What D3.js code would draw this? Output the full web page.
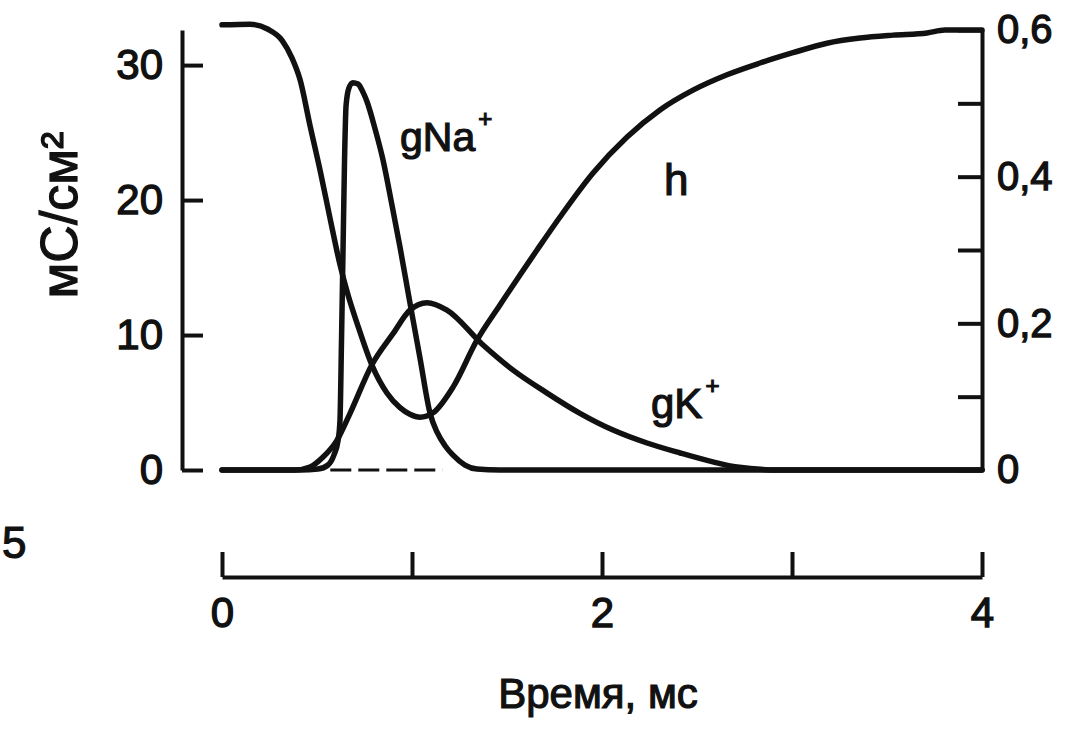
<!DOCTYPE html>
<html>
<script src="https://d3js.org/d3.v7.min.js"></script>

<head>
    <style>
        body {
            margin: 0;
            background-color: #ffffff;
            font-family: "Liberation Sans", Arial, Helvetica, sans-serif;
        }

        svg {
            display: block;
        }
    </style>
</head>

<body>
</body>
<script>
    const width = 1077,
        height = 735;
    const svg = d3.select("body").append("svg").attr("width", width).attr("height", height);
    const ink = "#111";

    // h (right axis, 0..0.6)
    const hTime = [0, 0.147, 0.242, 0.316, 0.368, 0.411, 0.463, 0.516, 0.568, 0.621, 0.663, 0.711, 0.789, 0.868,
        0.937, 0.989, 1.042, 1.111, 1.216, 1.342, 1.463, 1.658, 1.779, 1.953, 2.132, 2.305, 2.479, 2.658, 2.832,
        3.005, 3.184, 3.358, 3.532, 3.711, 3.805, 4.0];
    const hValue = [0.607, 0.608, 0.601, 0.586, 0.562, 0.532, 0.47, 0.409, 0.344, 0.28, 0.239, 0.2, 0.143, 0.105,
        0.085, 0.076, 0.072, 0.078, 0.113, 0.177, 0.225, 0.3, 0.345, 0.405, 0.454, 0.491, 0.518, 0.539, 0.555,
        0.569, 0.582, 0.589, 0.593, 0.596, 0.6, 0.6];

    // gNa+ in mS/cm2
    const gNaTime = [0, 0.411, 0.505, 0.558, 0.589, 0.611, 0.621, 0.629, 0.637, 0.645, 0.653, 0.668, 0.689, 0.716,
        0.742, 0.763, 0.805, 0.847, 0.895, 0.937, 0.989, 1.042, 1.095, 1.132, 1.174, 1.216, 1.279, 1.342, 1.463, 4.0];
    const gNaValue = [0, 0, 0.07, 0.37, 1.1, 2.2, 3.7, 9.6, 16.3, 23.0, 27.0, 28.3, 28.7, 28.6,
        28.0, 27.3, 25.3, 23.0, 19.6, 16.5, 12.4, 8.3, 4.2, 2.8, 1.8, 1.1, 0.37, 0.07, 0, 0];

    // gK+ in mS/cm2
    const gKTime = [0, 0.384, 0.463, 0.532, 0.605, 0.674, 0.789, 0.9, 0.989, 1.079, 1.184, 1.374, 1.532, 1.711,
        1.884, 2.058, 2.237, 2.411, 2.584, 2.711, 2.937, 4.0];
    const gKValue = [0, 0, 0.22, 0.96, 2.2, 4.2, 7.8, 10.1, 11.85, 12.4, 11.85, 9.26, 7.4, 5.7,
        4.2, 2.96, 2.0, 1.26, 0.6, 0.22, 0, 0];

    const zeroDashSpan = [0.57, 1.16];

    const leftTicks = [0, 10, 20, 30];
    const rightTicks = [0, 0.1, 0.2, 0.3, 0.4, 0.5, 0.6];
    const rightLabels = ["0", "", "0,2", "", "0,4", "", "0,6"];
    const timeTicks = [0, 1, 2, 3, 4];
    const timeLabels = ["0", "", "2", "", "4"];

    const x = d3.scaleLinear().domain([0, 4]).range([222, 982]);
    const yL = d3.scaleLinear().domain([0, 32.6]).range([470, 30]);
    const yR = d3.scaleLinear().domain([0, 0.6]).range([470, 30]);

    function styleAxis(g, size) {
        g.attr("font-family", null).attr("font-size", null);
        g.selectAll("path.domain").attr("stroke", ink).attr("stroke-width", 4);
        g.selectAll(".tick line").attr("stroke", ink).attr("stroke-width", 4);
        g.selectAll(".tick text")
            .attr("fill", ink)
            .attr("stroke", ink)
            .attr("stroke-width", 1.3)
            .attr("font-size", size + "px");
    }

    function drawAxes() {
        svg.append("g")
            .attr("transform", "translate(182,0)")
            .call(d3.axisLeft(yL).tickValues(leftTicks).tickSizeInner(-21).tickSizeOuter(0).tickPadding(19))
            .call(g => styleAxis(g, 42));

        svg.append("g")
            .attr("transform", "translate(982,0)")
            .call(d3.axisRight(yR).tickValues(rightTicks).tickSizeInner(-24).tickSizeOuter(0).tickPadding(15)
                .tickFormat((d, i) => rightLabels[i]))
            .call(g => styleAxis(g, 40));

        svg.append("g")
            .attr("transform", "translate(0,577)")
            .call(d3.axisBottom(x).tickValues(timeTicks).tickSizeInner(-25).tickSizeOuter(0).tickPadding(20)
                .tickFormat((d, i) => timeLabels[i]))
            .call(g => styleAxis(g, 42));
    }

    function drawCurve(times, values, yScale) {
        const pts = times.map((t, i) => [t, values[i]]);
        const line = d3.line()
            .x(d => x(d[0]))
            .y(d => yScale(d[1]))
            .curve(d3.curveMonotoneX);
        svg.append("path")
            .datum(pts)
            .attr("d", line)
            .attr("fill", "none")
            .attr("stroke", ink)
            .attr("stroke-width", 5.5)
            .attr("stroke-linejoin", "round")
            .attr("stroke-linecap", "round");
    }

    function label(txt, sup, px, py, size) {
        const t = svg.append("text")
            .attr("x", px)
            .attr("y", py)
            .attr("font-size", size + "px")
            .attr("fill", ink)
            .attr("stroke", ink)
            .attr("stroke-width", 1.2)
            .text(txt);
        if (sup) {
            t.append("tspan")
                .attr("dx", 3)
                .attr("dy", -24)
                .attr("font-size", "24px")
                .text(sup);
        }
        return t;
    }

    function draw() {
        drawAxes();

        svg.append("line")
            .attr("x1", x(zeroDashSpan[0]))
            .attr("x2", x(zeroDashSpan[1]))
            .attr("y1", yL(0))
            .attr("y2", yL(0))
            .attr("stroke", ink)
            .attr("stroke-width", 3)
            .attr("stroke-dasharray", "21,7");

        drawCurve(hTime, hValue, yR);
        drawCurve(gNaTime, gNaValue, yL);
        drawCurve(gKTime, gKValue, yL);

        label("gNa", "+", 400, 151, 41);
        label("h", null, 664, 195, 44);
        label("gK", "+", 651, 418, 42);

        label("мС/см²", null, 0, 0, 52)
            .attr("text-anchor", "middle")
            .attr("transform", "translate(77,215) rotate(-90)");

        label("Время, мс", null, 598, 708, 42).attr("text-anchor", "middle");

        label("5", null, 2, 558, 44);
    }

    draw();
</script>

</html>
